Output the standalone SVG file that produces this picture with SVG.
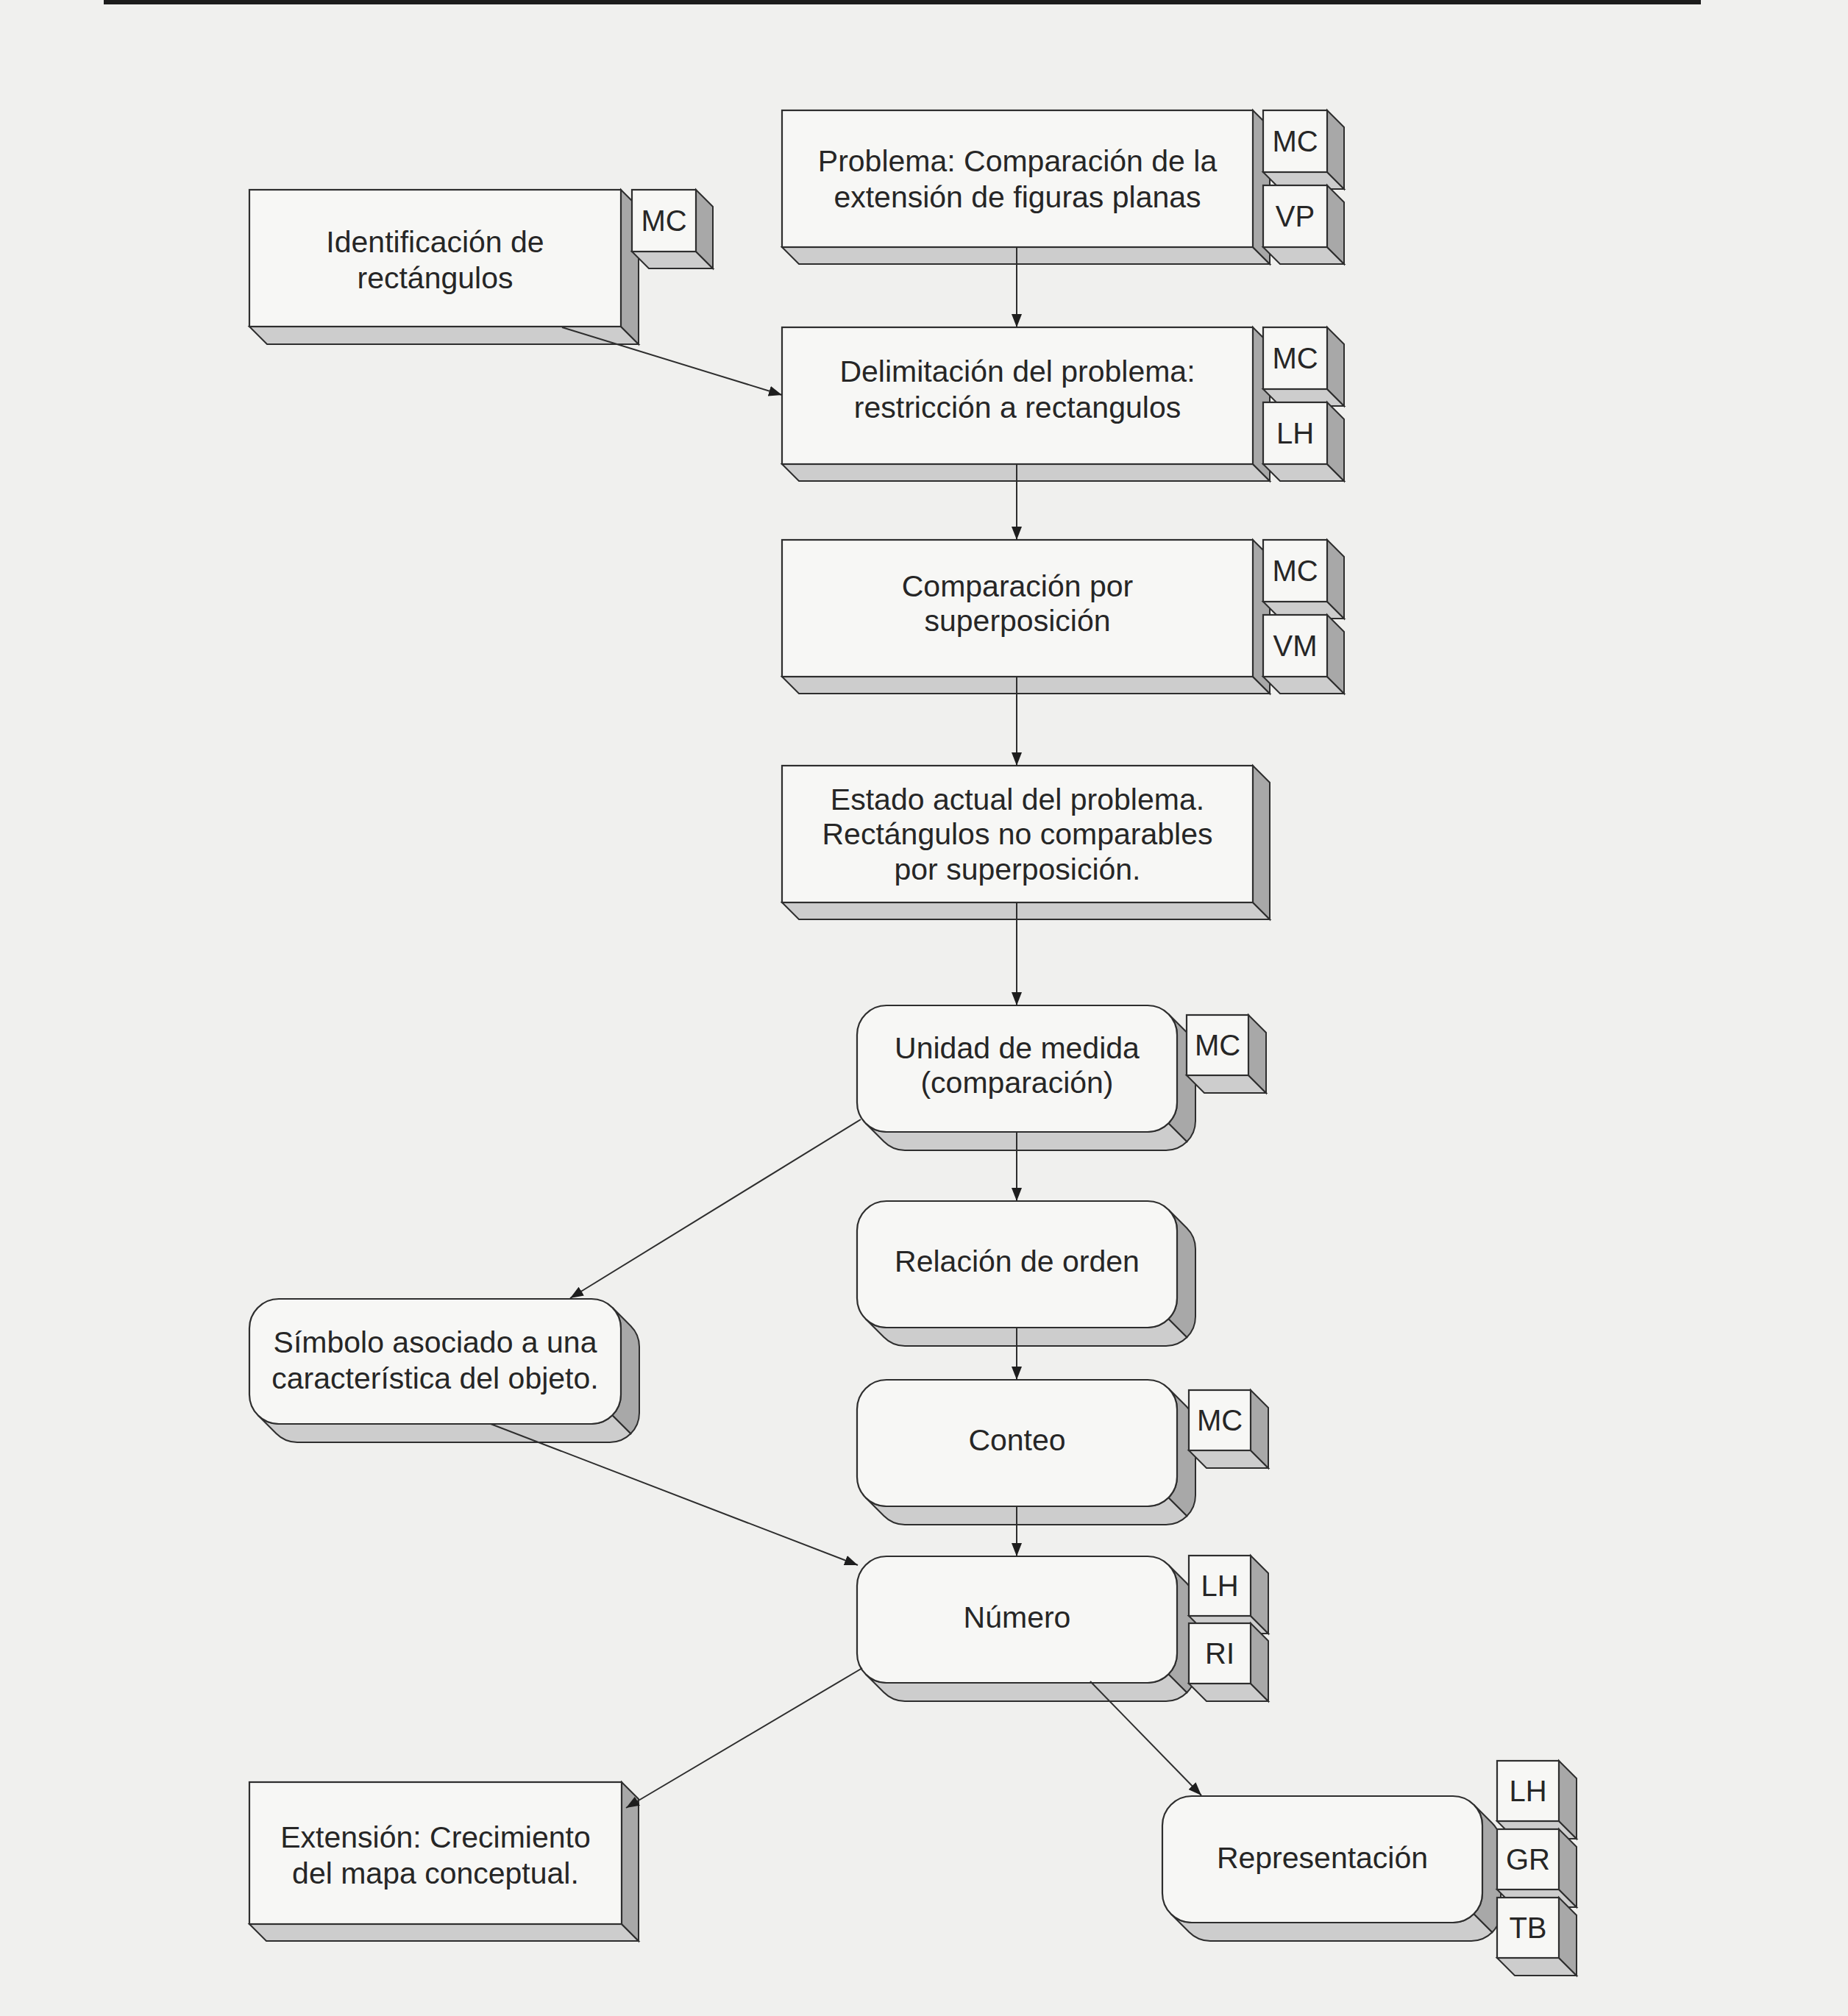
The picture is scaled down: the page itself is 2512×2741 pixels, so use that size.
<svg xmlns="http://www.w3.org/2000/svg" xmlns:xlink="http://www.w3.org/1999/xlink" width="2512" height="2741" viewBox="0 0 2512 2741">
<style>
.fr{fill:#f7f7f5;stroke:#2e2e2e;stroke-width:2.2}
.sd{fill:#a8a8a8;stroke:#2e2e2e;stroke-width:2}
.bt{fill:#cdcdcd;stroke:#2e2e2e;stroke-width:2}
.t{font-family:"Liberation Sans",Arial,Helvetica,sans-serif;font-size:41px;fill:#262626;text-anchor:middle}
.g{font-family:"Liberation Sans",Arial,Helvetica,sans-serif;font-size:40px;fill:#262626;text-anchor:middle}
.c{stroke:#2e2e2e;stroke-width:2;fill:none;marker-end:url(#ah)}
</style>
<defs>
<marker id="ah" viewBox="0 0 18 14" refX="18" refY="7" markerWidth="18" markerHeight="14" orient="auto" markerUnits="userSpaceOnUse"><path d="M0,0 L18,7 L0,14 Z" fill="#1e1e1e"/></marker>
<g id="sq1"><polygon class="bt" points="0,186 640,186 663,209 23,209"/><polygon class="sd" points="640,0 663,23 663,209 640,186"/><rect class="fr" x="0" y="0" width="640" height="186"/></g>
<g id="sq2"><polygon class="bt" points="0,186 505,186 529,210 24,210"/><polygon class="sd" points="505,0 529,24 529,210 505,186"/><rect class="fr" x="0" y="0" width="505" height="186"/></g>
<g id="sq3"><polygon class="bt" points="0,193 506,193 529,216 23,216"/><polygon class="sd" points="506,0 529,23 529,216 506,193"/><rect class="fr" x="0" y="0" width="506" height="193"/></g>
<g id="tg1"><polygon class="bt" points="0,84 87,84 110,107 23,107"/><polygon class="sd" points="87,0 110,23 110,107 87,84"/><rect class="fr" x="0" y="0" width="87" height="84"/></g>
<g id="tg2"><polygon class="bt" points="0,82 84,82 108,106 24,106"/><polygon class="sd" points="84,0 108,24 108,106 84,82"/><rect class="fr" x="0" y="0" width="84" height="82"/></g>
<g id="rb1"><path class="sd" d="M423.3,11.7 L448.3,36.7 A40,40 0 0 1 460,65 L460,157 A40,40 0 0 1 448.3,185.3 L423.3,160.3 A40,40 0 0 0 435,132 L435,40 A40,40 0 0 0 423.3,11.7 Z"/><path class="bt" d="M423.3,160.3 L448.3,185.3 A40,40 0 0 1 420,197 L65,197 A40,40 0 0 1 36.7,185.3 L11.7,160.3 A40,40 0 0 0 40,172 L395,172 A40,40 0 0 0 423.3,160.3 Z"/><rect class="fr" x="0" y="0" width="435" height="172" rx="40" ry="40"/></g>
<g id="rb2"><path class="sd" d="M493.3,11.7 L518.3,36.7 A40,40 0 0 1 530,65 L530,155 A40,40 0 0 1 518.3,183.3 L493.3,158.3 A40,40 0 0 0 505,130 L505,40 A40,40 0 0 0 493.3,11.7 Z"/><path class="bt" d="M493.3,158.3 L518.3,183.3 A40,40 0 0 1 490,195 L65,195 A40,40 0 0 1 36.7,183.3 L11.7,158.3 A40,40 0 0 0 40,170 L465,170 A40,40 0 0 0 493.3,158.3 Z"/><rect class="fr" x="0" y="0" width="505" height="170" rx="40" ry="40"/></g>
</defs>
<rect x="0" y="0" width="2512" height="2741" fill="#f0f0ee"/>
<rect x="141" y="0" width="2171" height="6" fill="#1c1c1c"/>

<g id="n-problema">
<use href="#sq1" x="1063" y="150"/>
<text class="t" x="1383" y="233">Problema: Comparación de la</text>
<text class="t" x="1383" y="282">extensión de figuras planas</text>
<use href="#tg1" x="1717" y="150"/><text class="g" x="1760.5" y="206">MC</text>
<use href="#tg1" x="1717" y="252"/><text class="g" x="1760.5" y="308">VP</text>
</g>
<g id="n-identificacion">
<use href="#sq2" x="339" y="258"/>
<text class="t" x="591.5" y="343">Identificación de</text>
<text class="t" x="591.5" y="392">rectángulos</text>
<use href="#tg1" x="859" y="258"/><text class="g" x="902.5" y="314">MC</text>
</g>
<g id="n-delimitacion">
<use href="#sq1" x="1063" y="445"/>
<text class="t" x="1383" y="519">Delimitación del problema:</text>
<text class="t" x="1383" y="568">restricción a rectangulos</text>
<use href="#tg1" x="1717" y="445"/><text class="g" x="1760.5" y="501">MC</text>
<use href="#tg1" x="1717" y="547"/><text class="g" x="1760.5" y="603">LH</text>
</g>
<g id="n-superposicion">
<use href="#sq1" x="1063" y="734"/>
<text class="t" x="1383" y="811">Comparación por</text>
<text class="t" x="1383" y="858">superposición</text>
<use href="#tg1" x="1717" y="734"/><text class="g" x="1760.5" y="790">MC</text>
<use href="#tg1" x="1717" y="836"/><text class="g" x="1760.5" y="892">VM</text>
</g>
<g id="n-estado">
<use href="#sq1" x="1063" y="1041"/>
<text class="t" x="1383" y="1101">Estado actual del problema.</text>
<text class="t" x="1383" y="1148">Rectángulos no comparables</text>
<text class="t" x="1383" y="1196">por superposición.</text>
</g>
<g id="n-unidad">
<use href="#rb1" x="1165" y="1367"/>
<text class="t" x="1382.5" y="1439">Unidad de medida</text>
<text class="t" x="1382.5" y="1486">(comparación)</text>
<use href="#tg2" x="1613" y="1380"/><text class="g" x="1655" y="1435">MC</text>
</g>
<g id="n-relacion">
<use href="#rb1" x="1165" y="1633"/>
<text class="t" x="1382.5" y="1729">Relación de orden</text>
</g>
<g id="n-conteo">
<use href="#rb1" x="1165" y="1876"/>
<text class="t" x="1382.5" y="1972">Conteo</text>
<use href="#tg2" x="1616" y="1890"/><text class="g" x="1658" y="1945">MC</text>
</g>
<g id="n-numero">
<use href="#rb1" x="1165" y="2116"/>
<text class="t" x="1382.5" y="2213">Número</text>
<use href="#tg2" x="1616" y="2115"/><text class="g" x="1658" y="2170">LH</text>
<use href="#tg2" x="1616" y="2207"/><text class="g" x="1658" y="2262">RI</text>
</g>
<g id="n-simbolo">
<use href="#rb2" x="339" y="1766"/>
<text class="t" x="591.5" y="1839">Símbolo asociado a una</text>
<text class="t" x="591.5" y="1888">característica del objeto.</text>
</g>
<g id="n-extension">
<use href="#sq3" x="339" y="2423"/>
<text class="t" x="592" y="2512">Extensión: Crecimiento</text>
<text class="t" x="592" y="2561">del mapa conceptual.</text>
</g>
<g id="n-representacion">
<use href="#rb1" x="1580" y="2442"/>
<text class="t" x="1797.5" y="2540">Representación</text>
<use href="#tg2" x="2035" y="2394"/><text class="g" x="2077" y="2449">LH</text>
<use href="#tg2" x="2035" y="2487"/><text class="g" x="2077" y="2542">GR</text>
<use href="#tg2" x="2035" y="2580"/><text class="g" x="2077" y="2635">TB</text>
</g>

<g id="connectors">
<line class="c" x1="1382" y1="336" x2="1382" y2="445"/>
<line class="c" x1="764" y1="445" x2="1063" y2="537"/>
<line class="c" x1="1382" y1="631" x2="1382" y2="734"/>
<line class="c" x1="1382" y1="919" x2="1382" y2="1041"/>
<line class="c" x1="1382" y1="1227" x2="1382" y2="1367"/>
<line class="c" x1="1382" y1="1539" x2="1382" y2="1633"/>
<line class="c" x1="1382" y1="1805" x2="1382" y2="1876"/>
<line class="c" x1="1382" y1="2048" x2="1382" y2="2116"/>
<line class="c" x1="1170" y1="1522" x2="775" y2="1765"/>
<line class="c" x1="667" y1="1936" x2="1166" y2="2128"/>
<line class="c" x1="1172" y1="2268" x2="851" y2="2458"/>
<line class="c" x1="1482" y1="2286" x2="1633" y2="2441"/>
</g>
</svg>
